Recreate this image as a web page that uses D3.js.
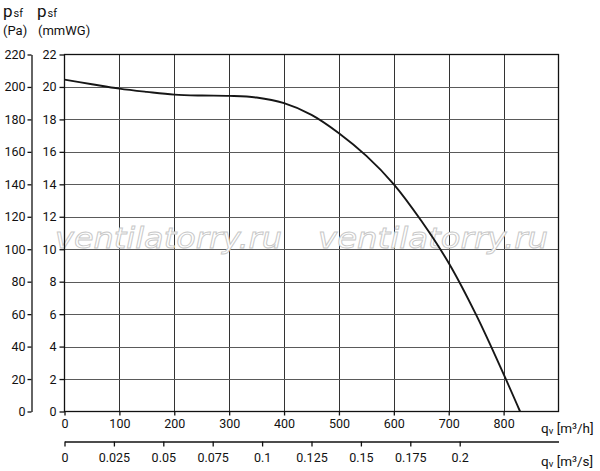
<!DOCTYPE html>
<html>
<head>
<meta charset="utf-8">
<script src="https://cdn.jsdelivr.net/npm/d3@7"></script>
<style>
  body { margin: 0; background: #fff; }
  text { font-family: Roboto, "Liberation Sans", sans-serif; fill: #111; }
</style>
</head>
<body>
<script>
// Fan curve: flow (m3/h) vs static pressure (mmWG)
var flowM3h = [0, 50, 100, 150, 200, 250, 300, 350, 400, 450, 500, 550, 600, 650, 700, 750, 800, 830];
var pressureMmWG = [20.45, 20.17, 19.9, 19.7, 19.53, 19.47, 19.45, 19.35, 19.0, 18.28, 17.15, 15.75, 14.0, 11.75, 9.15, 5.95, 2.3, 0];

// Tick labels
var ticksMmWG = [0, 2, 4, 6, 8, 10, 12, 14, 16, 18, 20, 22];
var ticksPa = [0, 20, 40, 60, 80, 100, 120, 140, 160, 180, 200, 220];
var ticksM3h = [0, 100, 200, 300, 400, 500, 600, 700, 800];
var ticksM3s = [0, 0.025, 0.05, 0.075, 0.1, 0.125, 0.15, 0.175, 0.2];
var gridM3h = [100, 200, 300, 400, 500, 600, 700, 800];
var gridMmWG = [2, 4, 6, 8, 10, 12, 14, 16, 18, 20];

var svgWidth = 600;
var svgHeight = 471;

// Plot box
var plot = { left: 64.5, right: 558.5, top: 54.5, bottom: 411.5 };

var svg = d3.select("body")
    .append("svg")
    .attr("width", svgWidth)
    .attr("height", svgHeight);

// Scales
var xScale = d3.scaleLinear().domain([0, 900]).range([plot.left, plot.right]);
var xScaleS = d3.scaleLinear().domain([0, 0.25]).range([plot.left, plot.right]);
var yScale = d3.scaleLinear().domain([0, 22]).range([plot.bottom, plot.top]);
var yScalePa = d3.scaleLinear().domain([0, 220]).range([plot.bottom, plot.top]);

// Grid
svg.append("g")
    .selectAll("line")
    .data(gridM3h)
    .enter()
    .append("line")
    .attr("x1", d => Math.round(xScale(d)) + 0.5)
    .attr("x2", d => Math.round(xScale(d)) + 0.5)
    .attr("y1", plot.top)
    .attr("y2", plot.bottom)
    .attr("stroke", "#333")
    .attr("stroke-width", 1);

svg.append("g")
    .selectAll("line")
    .data(gridMmWG)
    .enter()
    .append("line")
    .attr("x1", plot.left)
    .attr("x2", plot.right)
    .attr("y1", d => Math.round(yScale(d)) + 0.5)
    .attr("y2", d => Math.round(yScale(d)) + 0.5)
    .attr("stroke", "#5a5a5a")
    .attr("stroke-width", 1);

// Watermark
var marks = [{ x: 55, w: 227 }, { x: 318, w: 230 }];
svg.append("g")
    .selectAll("text")
    .data(marks)
    .enter()
    .append("text")
    .attr("x", d => d.x)
    .attr("y", 248)
    .attr("textLength", d => d.w)
    .attr("lengthAdjust", "spacingAndGlyphs")
    .style("font-family", "'DejaVu Sans', sans-serif")
    .style("font-style", "italic")
    .style("font-size", "29px")
    .style("fill", "#fff")
    .style("stroke", "#c8c8c8")
    .style("stroke-width", 0.9)
    .text("ventilatorry.ru");

// Plot border
svg.append("rect")
    .attr("x", plot.left)
    .attr("y", plot.top)
    .attr("width", plot.right - plot.left)
    .attr("height", plot.bottom - plot.top)
    .attr("fill", "none")
    .attr("stroke", "#111")
    .attr("stroke-width", 1.3);

// Curve
var line = d3.line()
    .x((d, i) => xScale(flowM3h[i]))
    .y(d => yScale(d))
    .curve(d3.curveCatmullRom.alpha(0.5));

svg.append("path")
    .datum(pressureMmWG)
    .attr("d", line)
    .attr("fill", "none")
    .attr("stroke", "#161616")
    .attr("stroke-width", 1.9);

// Axis styling helper
function styleAxis(g) {
    g.selectAll("text")
        .style("font-family", "Roboto, 'Liberation Sans', sans-serif")
        .style("font-size", "12.5px")
        .attr("fill", "#111");
    g.selectAll("line").attr("stroke", "#111").attr("stroke-width", 1.3);
    g.selectAll("path").attr("stroke", "#111").attr("stroke-width", 1.3);
}

// mmWG axis
svg.append("g")
    .attr("transform", `translate(${plot.left}, 0)`)
    .call(d3.axisLeft(yScale).tickValues(ticksMmWG).tickSize(5).tickPadding(3).tickFormat(d3.format("d")))
    .call(g => g.select(".domain").remove())
    .call(styleAxis);

// Pa axis
svg.append("g")
    .attr("transform", "translate(31.5, 0)")
    .call(d3.axisLeft(yScalePa).tickValues(ticksPa).tickSize(4).tickSizeOuter(0).tickPadding(2).tickFormat(d3.format("d")))
    .call(styleAxis);

// m3/h axis
svg.append("g")
    .attr("transform", `translate(0, ${plot.bottom})`)
    .call(d3.axisBottom(xScale).tickValues(ticksM3h).tickSize(4).tickPadding(4).tickFormat(d3.format("d")))
    .call(g => g.select(".domain").remove())
    .call(styleAxis);

// m3/s axis
svg.append("g")
    .attr("transform", "translate(0, 441.5)")
    .call(d3.axisBottom(xScaleS).tickValues(ticksM3s).tickSize(5).tickSizeOuter(0).tickPadding(7).tickFormat(d3.format("~g")))
    .call(styleAxis);

// Axis titles
function title(x, y, main, sub, rest) {
    var t = svg.append("text")
        .attr("x", x)
        .attr("y", y)
        .style("font-size", "13.5px");
    t.append("tspan").text(main);
    t.append("tspan").attr("dy", 1).style("font-size", "9.5px").text(sub);
    t.append("tspan").attr("dy", -1).text(rest);
    return t;
}

var p1 = svg.append("text").attr("x", 3).attr("y", 17).style("font-size", "17px");
p1.append("tspan").text("p");
p1.append("tspan").style("font-size", "11px").attr("dx", 1).text("sf");

var p2 = svg.append("text").attr("x", 37).attr("y", 17).style("font-size", "17px");
p2.append("tspan").text("p");
p2.append("tspan").style("font-size", "11px").attr("dx", 1).text("sf");

svg.append("text").attr("x", 3).attr("y", 35).style("font-size", "13px").text("(Pa)");
svg.append("text").attr("x", 38).attr("y", 35).style("font-size", "13px").text("(mmWG)");

var q1 = title(541, 433, "q", "v", " [m³/h]");
var q2 = title(541, 466, "q", "v", " [m³/s]");
</script>
</body>
</html>
